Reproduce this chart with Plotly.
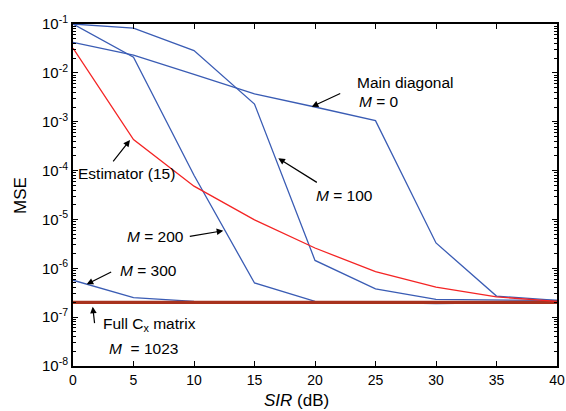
import plotly.graph_objects as go

# ---- data ----
sir = [0, 5, 10, 15, 20, 25, 30, 35, 40]
mse_main_diag = [4.2e-2, 2.3e-2, 9.3e-3, 3.7e-3, 2.0e-3, 1.05e-3, 3.3e-6, 2.7e-7, 2.2e-7]
mse_m100 = [1.0e-1, 8.2e-2, 2.85e-2, 2.3e-3, 1.45e-6, 3.8e-7, 2.3e-7, 2.25e-7, 2.2e-7]
mse_m200 = [1.0e-1, 2.1e-2, 8.0e-5, 5.0e-7, 2.1e-7, 2.0e-7, 1.9e-7, 1.95e-7, 2.0e-7]
mse_m300 = [5.7e-7, 2.5e-7, 2.1e-7, 2.1e-7, 2.05e-7, 2.0e-7, 2.0e-7, 2.05e-7, 2.1e-7]
mse_full = [2.0e-7, 2.0e-7, 2.0e-7, 2.0e-7, 2.0e-7, 2.0e-7, 2.0e-7, 2.0e-7, 2.0e-7]
mse_estimator = [3.2e-2, 4.3e-4, 4.8e-5, 9.8e-6, 2.6e-6, 8.5e-7, 4.1e-7, 2.6e-7, 2.1e-7]

y_tickvals = [1e-8, 1e-7, 1e-6, 1e-5, 1e-4, 1e-3, 1e-2, 1e-1]
y_ticktext = ["10<sup>-8</sup>", "10<sup>-7</sup>", "10<sup>-6</sup>", "10<sup>-5</sup>",
              "10<sup>-4</sup>", "10<sup>-3</sup>", "10<sup>-2</sup>", "10<sup>-1</sup>"]
x_tickvals = [0, 5, 10, 15, 20, 25, 30, 35, 40]

BLUE = "#3a5cb4"
RED = "#f42424"
DARKRED = "#a8321e"
FONT = "Liberation Sans, Arial, sans-serif"

fig = go.Figure()
for ys in [mse_main_diag, mse_m100, mse_m200, mse_m300]:
    fig.add_trace(go.Scatter(x=sir, y=ys, mode="lines",
                             line=dict(color=BLUE, width=1.3), showlegend=False))
fig.add_trace(go.Scatter(x=sir, y=mse_full, mode="lines",
                         line=dict(color=DARKRED, width=3.2), showlegend=False))
fig.add_trace(go.Scatter(x=sir, y=mse_estimator, mode="lines",
                         line=dict(color=RED, width=1.3), showlegend=False))

minor_vals = [m * 10 ** e for e in range(-8, -1) for m in range(2, 10)]

fig.update_layout(
    width=566, height=411,
    margin=dict(l=73, r=9, t=24, b=45),
    paper_bgcolor="white", plot_bgcolor="white",
    font=dict(family=FONT, size=14, color="black"),
    xaxis=dict(range=[0, 40], tickvals=x_tickvals, ticks="inside", ticklen=5,
               tickwidth=1, tickcolor="black", showline=True, linewidth=2,
               linecolor="black", mirror="ticks", showgrid=False, zeroline=False,
               tickfont=dict(size=14), automargin=False),
    yaxis=dict(type="log", range=[-8, -1], tickvals=y_tickvals, ticktext=y_ticktext,
               ticks="inside", ticklen=5, tickwidth=1, tickcolor="black",
               showline=True, linewidth=2, linecolor="black", mirror="ticks",
               showgrid=False, zeroline=False, tickfont=dict(size=15),
               automargin=False,
               minor=dict(tickvals=minor_vals, ticks="inside", ticklen=3,
                          tickcolor="black", showgrid=False)),
)

# axis titles placed to match reference
fig.add_annotation(x=0.462, y=-0.102, xref="paper", yref="paper",
                   text="<i>SIR</i> (dB)", showarrow=False,
                   font=dict(size=17), xanchor="center", yanchor="middle")
fig.add_annotation(x=-53 / 484, y=(366 - 196) / 342, xref="paper", yref="paper",
                   text="MSE", showarrow=False, textangle=-90,
                   font=dict(size=17), xanchor="center", yanchor="middle")

def arrow(x, ylog, ax, ay):
    fig.add_annotation(x=x, y=ylog, xref="x", yref="y", ax=ax, ay=ay, text="",
                       showarrow=True, arrowhead=2, arrowsize=1.1, arrowwidth=1.2,
                       arrowcolor="black")

def label(x, ylog, text):
    fig.add_annotation(x=x, y=ylog, xref="x", yref="y", text=text, showarrow=False,
                       font=dict(size=15.5, color="black"), xanchor="center",
                       yanchor="middle")

arrow(19.73, -2.693, 30, -14)
arrow(4.71, -3.374, -18, 23)
arrow(16.97, -3.749, 40, 25)
arrow(12.42, -5.231, -35, 6)
arrow(1.13, -6.328, 26, -13)
arrow(1.63, -6.786, 2, 18)

label(27.44, -2.201, "Main diagonal")
label(25.29, -2.590, "<i>M</i> = 0")
label(4.38, -4.056, "Estimator (15)")
label(22.40, -4.500, "<i>M</i> = 100")
label(6.78, -5.354, "<i>M</i> = 200")
label(6.20, -6.035, "<i>M</i> = 300")
label(6.36, -7.150, "Full C<sub>x</sub> matrix")
label(5.79, -7.638, "<i>M</i>  = 1023")

fig.write_html("out.html")
